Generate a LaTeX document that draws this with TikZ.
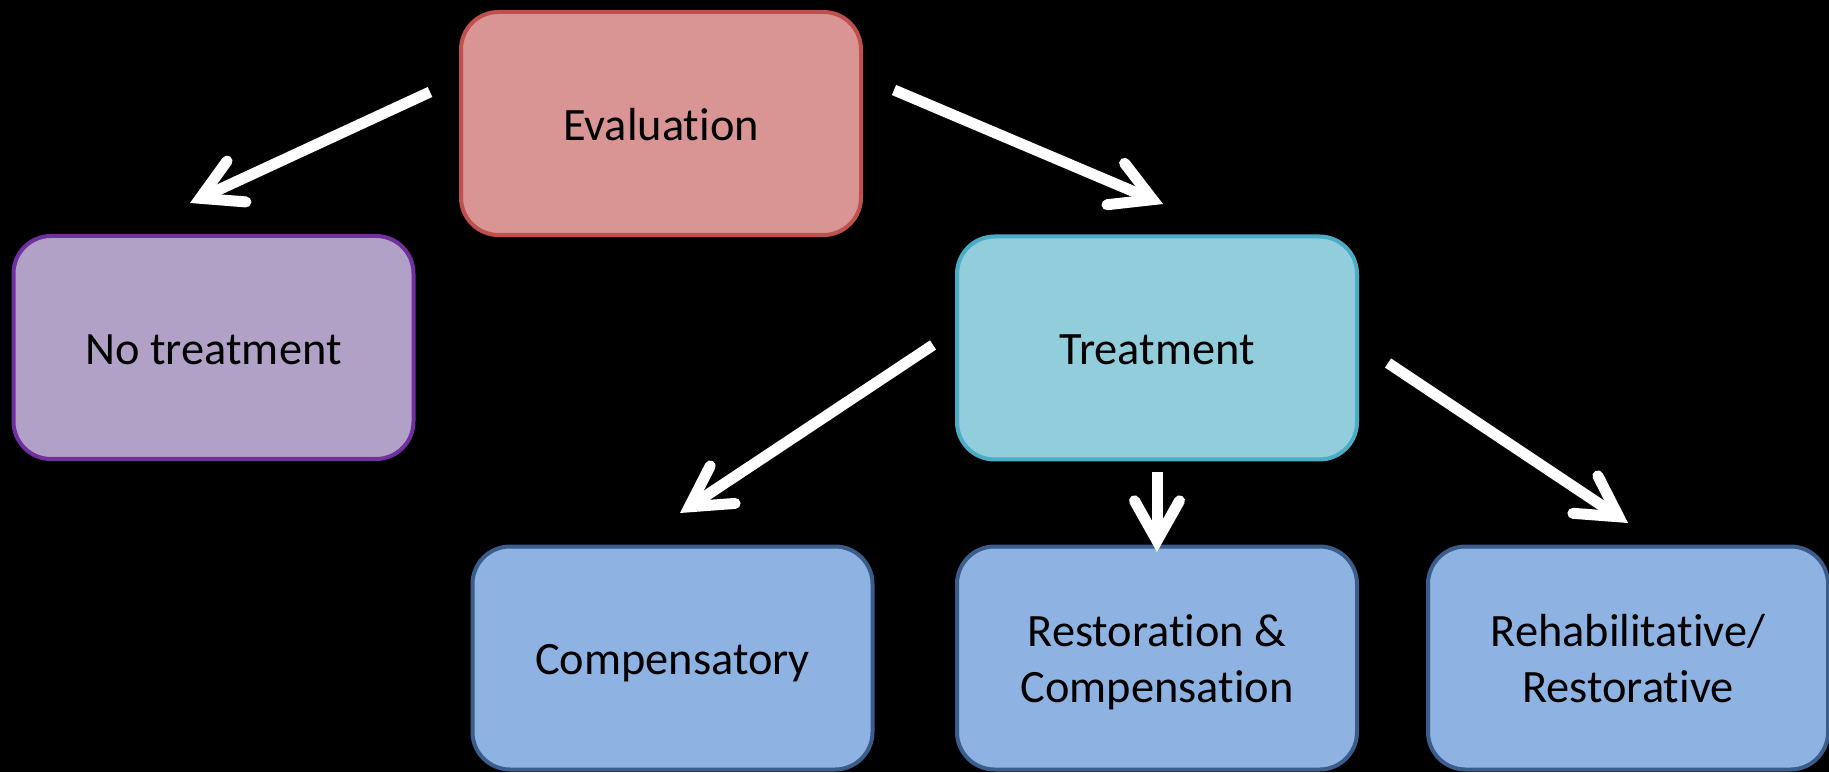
\documentclass[tikz,border=0pt]{standalone}
\usepackage{fontspec}
\setmainfont{Carlito}[RawFeature={-liga;-clig;-calt;-dlig}]
\usetikzlibrary{arrows.meta}

\definecolor{evalfill}{HTML}{D99594}
\definecolor{evalline}{HTML}{C0504D}
\definecolor{nofill}{HTML}{B2A1C7}
\definecolor{noline}{HTML}{7030A0}
\definecolor{treatfill}{HTML}{92CDDC}
\definecolor{treatline}{HTML}{4BACC6}
\definecolor{optfill}{HTML}{8EB3E2}
\definecolor{optline}{HTML}{3A5D8B}

% text block, set a little low as in the slide
\newcommand{\boxtext}[1]{\raisebox{-0.11cm}[\height][\depth]{\begin{tabular}{@{}c@{}}#1\end{tabular}}}

\tikzset{
  box/.style={draw, line width=0.08cm, rounded corners=0.75cm,
    minimum width=8cm, minimum height=4.46cm, outer sep=0pt,
    text=black, font=\fontsize{26.4}{31.5}\selectfont},
  flow/.style={white, line width=0.22cm,
    -{Straight Barb[length=0.8cm, width=0.9cm, line cap=round, line join=miter]}}
}

\begin{document}
\begin{tikzpicture}
  % Background
  \fill[black] (0,0) rectangle (36.58,15.44);
  \useasboundingbox (0,0) rectangle (36.58,15.44);

  % Boxes
  \node[box, fill=evalfill, draw=evalline] (eval) at (13.22,12.97) {\boxtext{Evaluation}};
  \node[box, fill=nofill, draw=noline] (none) at (4.27,8.49) {\boxtext{No treatment}};
  \node[box, fill=treatfill, draw=treatline] (treat) at (23.14,8.48) {\boxtext{Treatment}};
  \node[box, fill=optfill, draw=optline] (comp) at (13.45,2.28) {\boxtext{Compensatory}};
  \node[box, fill=optfill, draw=optline] (resto) at (23.14,2.28) {\boxtext{Restoration \&\\Compensation}};
  \node[box, fill=optfill, draw=optline] (rehab) at (32.56,2.28) {\boxtext{Rehabilitative/\\Restorative}};

  % Arrow ends
  \coordinate (e1) at (8.6,13.6);
  \coordinate (n1) at (3.8,11.38);
  \coordinate (e2) at (17.88,13.64);
  \coordinate (t1) at (23.26,11.36);
  \coordinate (t2) at (18.66,8.54);
  \coordinate (c1) at (13.6,5.18);
  \coordinate (t3) at (23.14,6.0);
  \coordinate (r1) at (23.14,4.4);
  \coordinate (t4) at (27.76,8.18);
  \coordinate (h1) at (32.56,4.98);

  % Arrows
  \draw[flow] (e1) -- (n1);
  \draw[flow] (e2) -- (t1);
  \draw[flow] (t2) -- (c1);
  \draw[flow] (t3) -- (r1);
  \draw[flow] (t4) -- (h1);
\end{tikzpicture}
\end{document}
